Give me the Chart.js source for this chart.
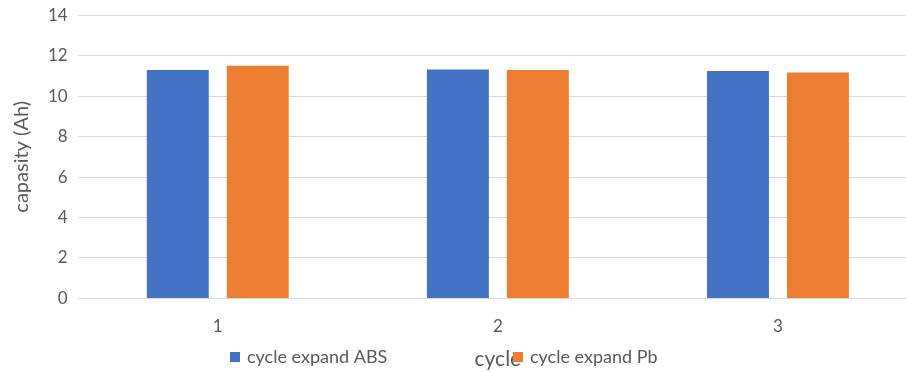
<!DOCTYPE html>
<html>
<head>
<meta charset="utf-8">
<script src="https://cdn.jsdelivr.net/npm/chart.js@4/dist/chart.umd.min.js"></script>
<style>
  html, body { margin: 0; padding: 0; background: #fff; overflow: hidden; }
  #wrap { width: 918px; height: 377px; margin-top: -5px; }
</style>
</head>
<body>
<div id="wrap"><canvas id="capChart"></canvas></div>
<script>
const cycles = ["1", "2", "3"];
const absValues = [11.29, 11.32, 11.24];
const pbValues = [11.5, 11.29, 11.17];
const seriesNames = ["cycle expand ABS", "cycle expand Pb"];
const yTicks = [0, 2, 4, 6, 8, 10, 12, 14];

const FONT = "Lato, 'Open Sans', sans-serif";
const GREY = "#595959";

// legend drawn by hand so it can sit on the same row as the x title
const bottomLegend = {
	id: "bottomLegend",
	afterDraw(chart) {
		const ctx = chart.ctx;
		const y = 362;
		let x = 230;
		ctx.save();
		ctx.font = "18px " + FONT;
		ctx.textBaseline = "middle";
		chart.data.datasets.forEach((ds) => {
			ctx.fillStyle = ds.backgroundColor;
			ctx.fillRect(x, y - 5, 10, 10);
			ctx.fillStyle = GREY;
			ctx.fillText(ds.label, x + 17, y);
			x += 283;
		});
		ctx.restore();
	},
};

const barConfig = {
	type: "bar",
	data: {
		labels: cycles,
		datasets: [
			{
				label: seriesNames[0],
				data: absValues,
				backgroundColor: "#4472C4",
				categoryPercentage: 0.571,
				barPercentage: 0.775,
			},
			{
				label: seriesNames[1],
				data: pbValues,
				backgroundColor: "#ED7D31",
				categoryPercentage: 0.571,
				barPercentage: 0.775,
			},
		],
	},
	options: {
		responsive: true,
		maintainAspectRatio: false,
		animation: false,
		layout: { padding: { top: 0, left: 8, right: 0, bottom: 0 } },
		plugins: {
			legend: { display: false },
			tooltip: { enabled: false },
		},
		scales: {
			x: {
				grid: { display: false },
				border: { display: false },
				ticks: { color: GREY, font: { family: FONT, size: 17 }, padding: 10 },
				title: {
					display: true,
					text: "cycle",
					color: GREY,
					font: { family: FONT, size: 21 },
					padding: { top: 0, bottom: 0 },
				},
			},
			y: {
				min: 0,
				max: 14,
				afterBuildTicks: (scale) => {
					scale.ticks = yTicks.map((v) => ({ value: v }));
				},
				grid: { color: "#d9d9d9", lineWidth: 1, drawTicks: false },
				border: { display: false },
				ticks: { color: GREY, font: { family: FONT, size: 17 }, padding: 10 },
				title: {
					display: true,
					text: "capasity (Ah)",
					color: GREY,
					font: { family: FONT, size: 20 },
					padding: { top: 2, bottom: 4 },
				},
			},
		},
	},
	plugins: [bottomLegend],
};

new Chart(document.getElementById("capChart"), barConfig);
</script>
</body>
</html>
